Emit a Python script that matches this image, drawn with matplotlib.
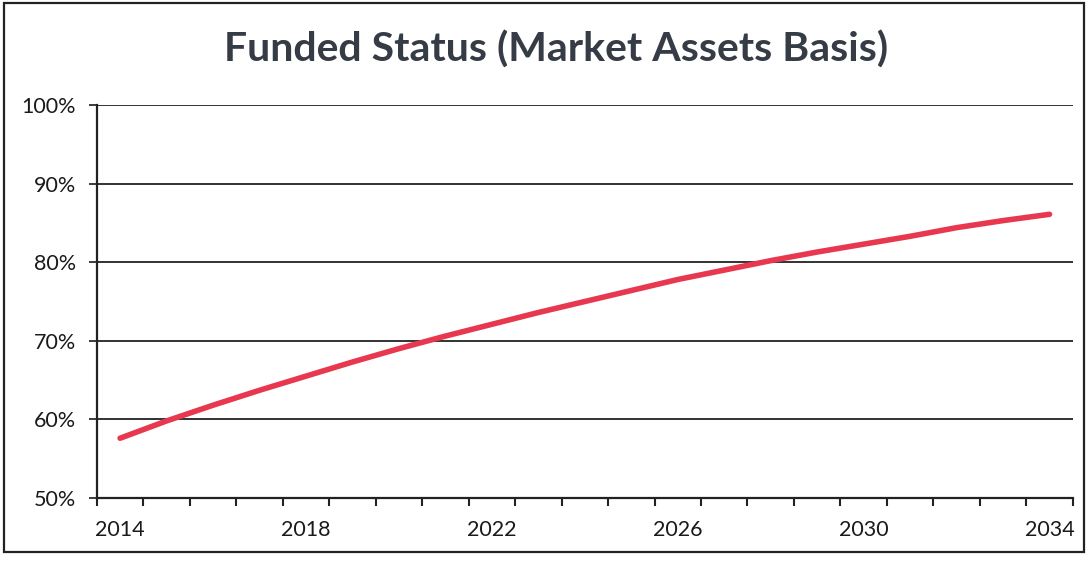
import numpy as np
import matplotlib.pyplot as plt
from matplotlib.patches import Rectangle
from matplotlib.ticker import FixedLocator, FuncFormatter

# funded status (percent)
years = list(range(2014, 2035))
funded = [57.6, 59.8, 61.8, 63.7, 65.5, 67.3, 69.0, 70.6, 72.1, 73.6, 75.0,
          76.4, 77.8, 79.0, 80.2, 81.3, 82.3, 83.3, 84.4, 85.3, 86.1]
label_years = [2014, 2018, 2022, 2026, 2030, 2034]
y_ticks = [50, 60, 70, 80, 90, 100]

plt.rcParams['font.family'] = ['Lato', 'DejaVu Sans']

fig = plt.figure(figsize=(10.88, 5.62), dpi=100)
ax = fig.add_axes([0.089, 0.114, 0.897, 0.699])

# outer frame of the chart area
fig.patches.append(Rectangle((0.004, 0.018), 0.992, 0.976, transform=fig.transFigure,
                             fill=False, edgecolor='#222222', linewidth=1.6))

ax.plot(years, funded, color='#e8384f', linewidth=4.0, solid_capstyle='round', zorder=3)

ax.set_xlim(years[0] - 0.5, years[-1] + 0.5)
ax.set_ylim(50, 100)

ax.yaxis.set_major_locator(FixedLocator(y_ticks))
ax.yaxis.set_major_formatter(FuncFormatter(lambda v, p: f"{v:.0f}%"))
ax.grid(axis='y', color='#222222', linewidth=1.3)

# category axis: ticks at the boundaries, labels at the centres
ax.set_xticks(label_years)
ax.set_xticks(np.arange(years[0] - 0.5, years[-1] + 1.0, 1.0), minor=True)
ax.tick_params(axis='x', which='major', length=0, pad=16, labelsize=15.5, colors='#1a1a1a')
ax.tick_params(axis='x', which='minor', length=6, width=1.5, direction='out', color='#222222')
ax.tick_params(axis='y', length=6, width=1.2, direction='out', pad=9, labelsize=15.5,
               colors='#1a1a1a')

for s in ['top', 'right']:
    ax.spines[s].set_visible(False)
for s in ['left', 'bottom']:
    ax.spines[s].set_color('#222222')
    ax.spines[s].set_linewidth(1.6)

fig.text(0.511, 0.912, 'Funded Status (Market Assets Basis)', ha='center', va='center',
         fontsize=29.5, fontweight='bold', color='#363c46')

fig.savefig('out.png', dpi=100)
